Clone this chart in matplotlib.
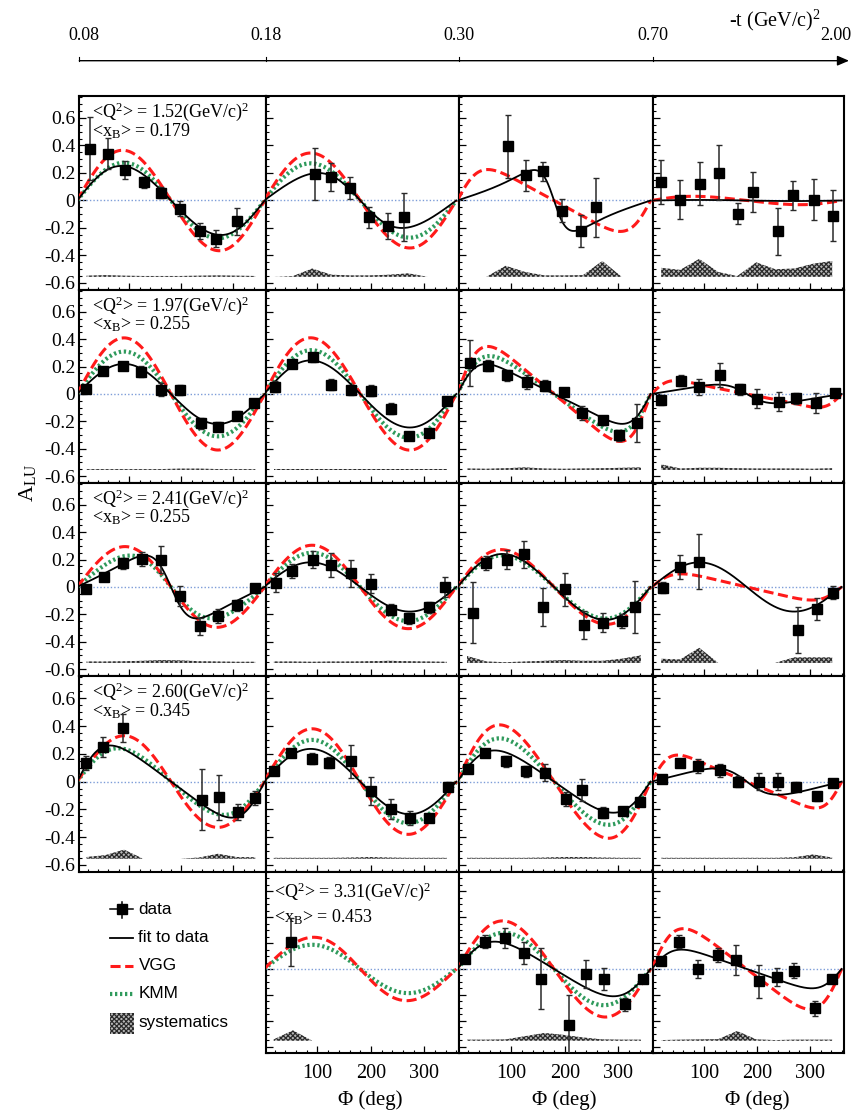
import numpy as np
import matplotlib
matplotlib.use('Agg')
import matplotlib.pyplot as plt
from matplotlib.patches import Rectangle

plt.rcParams['font.family'] = ['Liberation Serif', 'DejaVu Serif']
plt.rcParams['mathtext.fontset'] = 'custom'
plt.rcParams['mathtext.rm'] = 'Liberation Serif'
plt.rcParams['mathtext.it'] = 'Liberation Serif:italic'
plt.rcParams['mathtext.default'] = 'regular'
plt.rcParams['hatch.linewidth'] = 0.9
plt.rcParams['hatch.color'] = '#2a2a2a'

# ---------------- data ----------------
t_labels = ['0.08', '0.18', '0.30', '0.70', '2.00']
q2_labels = ['1.52', '1.97', '2.41', '2.60', '3.31']
xb_labels = ['0.179', '0.255', '0.255', '0.345', '0.453']
ytick_vals = [-0.6, -0.4, -0.2, 0.0, 0.2, 0.4, 0.6]
ytick_labels = ['-0.6', '-0.4', '-0.2', '0', '0.2', '0.4', '0.6']
xtick_vals = [100, 200, 300]
xtick_labels = ['100', '200', '300']
sys_phi = [18, 54, 90, 126, 162, 198, 234, 270, 306, 342]

# row 1
phi_r1c1 = [25, 60, 91, 128, 160, 198, 235, 267, 306]
asy_r1c1 = [0.378, 0.341, 0.222, 0.134, 0.056, -0.059, -0.220, -0.278, -0.151]
err_r1c1 = [0.23, 0.11, 0.065, 0.04, 0.04, 0.055, 0.057, 0.06, 0.10]
sys_r1c1 = [0.008, 0.012, 0.008, 0.006, 0.006, 0.006, 0.008, 0.01, 0.008, 0.006]
fit_r1c1, vgg_r1c1, kmm_r1c1 = (0.25, -0.1), (0.365, -0.05), (0.275, 0.0)

phi_r1c2 = [96, 126, 160, 197, 232, 262]
asy_r1c2 = [0.19, 0.171, 0.093, -0.122, -0.183, -0.122]
err_r1c2 = [0.19, 0.104, 0.08, 0.075, 0.094, 0.175]
sys_r1c2 = [0.0, 0.005, 0.06, 0.015, 0.01, 0.01, 0.015, 0.025, 0.0, 0.0]
fit_r1c2, vgg_r1c2, kmm_r1c2 = (0.196, 0.2), (0.345, -0.05), (0.27, -0.05)

phi_r1c3 = [95, 127, 160, 194, 231, 259]
asy_r1c3 = [0.395, 0.183, 0.212, -0.073, -0.222, -0.049]
err_r1c3 = [0.23, 0.113, 0.068, 0.082, 0.118, 0.213]
sys_r1c3 = [0.0, 0.0, 0.08, 0.035, 0.01, 0.01, 0.012, 0.115, 0.0, 0.0]
fit_r1c3, vgg_r1c3, kmm_r1c3 = (0.133, 0.8), (0.188, -0.55), None

phi_r1c4 = [18, 54, 91, 127, 163, 192, 240, 267, 307, 343]
asy_r1c4 = [0.134, 0.007, 0.122, 0.202, -0.095, 0.061, -0.224, 0.037, 0.007, -0.11]
err_r1c4 = [0.16, 0.144, 0.157, 0.2, 0.077, 0.144, 0.17, 0.107, 0.146, 0.183]
sys_r1c4 = [0.065, 0.05, 0.13, 0.035, 0.005, 0.105, 0.055, 0.06, 0.095, 0.115]
fit_r1c4, vgg_r1c4, kmm_r1c4 = (0.004, 0.0), (0.03, -0.2), None

# row 2
phi_r2c1 = [16, 50, 88, 122, 160, 198, 237, 270, 306, 340]
asy_r2c1 = [0.036, 0.17, 0.206, 0.163, 0.032, 0.029, -0.214, -0.238, -0.158, -0.066]
err_r2c1 = [0.03, 0.03, 0.03, 0.04, 0.05, 0.04, 0.04, 0.03, 0.03, 0.03]
sys_r2c1 = [0.006, 0.006, 0.006, 0.006, 0.006, 0.009, 0.009, 0.006, 0.006, 0.006]
fit_r2c1, vgg_r2c1, kmm_r2c1 = (0.22, 0.0), (0.41, 0.0), (0.31, 0.0)

phi_r2c2 = [20, 52, 91, 125, 162, 201, 237, 272, 308, 342]
asy_r2c2 = [0.053, 0.218, 0.267, 0.066, 0.029, 0.024, -0.109, -0.308, -0.284, -0.049]
err_r2c2 = [0.04, 0.03, 0.03, 0.04, 0.04, 0.04, 0.04, 0.03, 0.03, 0.03]
sys_r2c2 = [0.006] * 10
fit_r2c2, vgg_r2c2, kmm_r2c2 = (0.245, -0.05), (0.41, -0.05), (0.32, -0.03)

phi_r2c3 = [24, 57, 92, 129, 164, 198, 232, 272, 302, 334]
asy_r2c3 = [0.226, 0.206, 0.138, 0.085, 0.061, 0.017, -0.138, -0.194, -0.303, -0.211]
err_r2c3 = [0.17, 0.04, 0.04, 0.05, 0.04, 0.03, 0.05, 0.03, 0.04, 0.14]
sys_r2c3 = [0.01, 0.008, 0.012, 0.018, 0.01, 0.008, 0.01, 0.012, 0.015, 0.018]
fit_r2c3, vgg_r2c3, kmm_r2c3 = (0.175, -0.6), (0.29, -0.55), (0.24, -0.5)

phi_r2c4 = [18, 55, 90, 130, 167, 199, 241, 274, 311, 348]
asy_r2c4 = [-0.044, 0.097, 0.049, 0.138, 0.036, -0.036, -0.056, -0.032, -0.066, 0.007]
err_r2c4 = [0.04, 0.04, 0.06, 0.09, 0.04, 0.07, 0.07, 0.04, 0.07, 0.03]
sys_r2c4 = [0.04, 0.01, 0.015, 0.015, 0.012, 0.01, 0.01, 0.01, 0.008, 0.012]
fit_r2c4, vgg_r2c4, kmm_r2c4 = (0.056, 0.57), (0.07, -0.7), None

# row 3
phi_r3c1 = [17, 52, 88, 124, 161, 198, 236, 271, 306, 342]
asy_r3c1 = [-0.017, 0.075, 0.172, 0.206, 0.2, -0.066, -0.289, -0.211, -0.133, -0.005]
err_r3c1 = [0.03, 0.03, 0.04, 0.05, 0.1, 0.07, 0.06, 0.05, 0.04, 0.03]
sys_r3c1 = [0.01, 0.01, 0.012, 0.015, 0.02, 0.018, 0.012, 0.01, 0.008, 0.008]
fit_r3c1, vgg_r3c1, kmm_r3c1 = (0.175, 0.65), (0.295, 0.03), (0.225, 0.2)

phi_r3c2 = [23, 52, 91, 125, 162, 201, 237, 272, 308, 339]
asy_r3c2 = [0.032, 0.117, 0.2, 0.16, 0.1, 0.024, -0.167, -0.228, -0.15, 0.0]
err_r3c2 = [0.07, 0.05, 0.06, 0.09, 0.1, 0.07, 0.04, 0.04, 0.04, 0.07]
sys_r3c2 = [0.01, 0.01, 0.008, 0.01, 0.01, 0.012, 0.015, 0.012, 0.01, 0.008]
fit_r3c2, vgg_r3c2, kmm_r3c2 = (0.18, -0.05), (0.305, 0.0), (0.25, 0.0)

phi_r3c3 = [30, 53, 92, 124, 159, 200, 235, 272, 307, 330]
asy_r3c3 = [-0.187, 0.177, 0.2, 0.238, -0.146, -0.017, -0.279, -0.26, -0.248, -0.15]
err_r3c3 = [0.22, 0.05, 0.07, 0.1, 0.14, 0.12, 0.1, 0.07, 0.05, 0.19]
sys_r3c3 = [0.05, 0.01, 0.005, 0.01, 0.015, 0.02, 0.015, 0.015, 0.03, 0.055]
fit_r3c3, vgg_r3c3, kmm_r3c3 = (0.24, -0.1), (0.27, -0.15), (0.23, -0.1)

phi_r3c4 = [21, 53, 90, 278, 313, 344]
asy_r3c4 = [-0.005, 0.146, 0.184, -0.313, -0.158, -0.041]
err_r3c4 = [0.04, 0.09, 0.2, 0.17, 0.08, 0.05]
sys_r3c4 = [0.03, 0.025, 0.11, 0.0, 0.0, 0.0, 0.0, 0.04, 0.04, 0.04]
fit_r3c4, vgg_r3c4, kmm_r3c4 = (0.18, 0.0), (0.08, -0.55), None

# row 4
phi_r4c1 = [17, 50, 88, 239, 273, 308, 342]
asy_r4c1 = [0.136, 0.25, 0.383, -0.131, -0.114, -0.218, -0.121]
err_r4c1 = [0.05, 0.07, 0.1, 0.22, 0.16, 0.06, 0.05]
sys_r4c1 = [0.012, 0.025, 0.065, 0.0, 0.0, 0.0, 0.008, 0.035, 0.012, 0.01]
fit_r4c1, vgg_r4c1, kmm_r4c1 = (0.232, -0.45), (0.33, 0.0), (0.235, -0.2)

phi_r4c2 = [18, 51, 90, 122, 162, 201, 238, 274, 309, 344]
asy_r4c2 = [0.075, 0.206, 0.165, 0.136, 0.146, -0.066, -0.199, -0.265, -0.26, -0.036]
err_r4c2 = [0.03, 0.03, 0.04, 0.04, 0.12, 0.1, 0.07, 0.05, 0.03, 0.03]
sys_r4c2 = [0.006, 0.006, 0.006, 0.006, 0.008, 0.012, 0.008, 0.006, 0.006, 0.006]
fit_r4c2, vgg_r4c2, kmm_r4c2 = (0.235, -0.05), (0.38, 0.0), (0.3, 0.0)

phi_r4c3 = [20, 51, 90, 127, 164, 203, 232, 272, 309, 341]
asy_r4c3 = [0.092, 0.206, 0.146, 0.073, 0.063, -0.126, -0.061, -0.223, -0.211, -0.146]
err_r4c3 = [0.03, 0.03, 0.04, 0.04, 0.06, 0.05, 0.08, 0.04, 0.03, 0.03]
sys_r4c3 = [0.006, 0.006, 0.006, 0.006, 0.008, 0.012, 0.012, 0.008, 0.006, 0.006]
fit_r4c3, vgg_r4c3, kmm_r4c3 = (0.21, -0.35), (0.40, -0.2), (0.305, -0.2)

phi_r4c4 = [20, 53, 88, 130, 164, 204, 239, 274, 313, 344]
asy_r4c4 = [0.019, 0.136, 0.112, 0.08, 0.0, 0.0, 0.0, -0.036, -0.107, -0.012]
err_r4c4 = [0.02, 0.03, 0.05, 0.05, 0.04, 0.06, 0.06, 0.03, 0.03, 0.02]
sys_r4c4 = [0.006, 0.006, 0.006, 0.006, 0.006, 0.006, 0.006, 0.01, 0.03, 0.008]
fit_r4c4, vgg_r4c4, kmm_r4c4 = (0.082, 0.5), (0.145, -0.65), None

# row 5
phi_r5c2 = [50]
asy_r5c2 = [0.21]
err_r5c2 = [0.185]
sys_r5c2 = [0.01, 0.08, 0.0, 0.0, 0.0, 0.0, 0.0, 0.0, 0.0, 0.0]
fit_r5c2, vgg_r5c2, kmm_r5c2 = None, (0.245, 0.05), (0.187, 0.0)

phi_r5c3 = [15, 51, 89, 125, 155, 208, 239, 274, 312, 345]
asy_r5c3 = [0.076, 0.211, 0.237, 0.122, -0.076, -0.433, -0.036, -0.076, -0.272, -0.076]
err_r5c3 = [0.03, 0.05, 0.076, 0.087, 0.235, 0.23, 0.108, 0.083, 0.05, 0.03]
sys_r5c3 = [0.008, 0.008, 0.01, 0.035, 0.06, 0.045, 0.025, 0.01, 0.008, 0.008]
fit_r5c3, vgg_r5c3, kmm_r5c3 = (0.198, -0.35), (0.37, -0.1), (0.28, -0.05)

phi_r5c4 = [17, 51, 88, 125, 159, 204, 237, 270, 310, 342]
asy_r5c4 = [0.064, 0.211, 0.0, 0.109, 0.071, -0.094, -0.061, -0.013, -0.305, -0.076]
err_r5c4 = [0.03, 0.05, 0.07, 0.055, 0.115, 0.127, 0.07, 0.057, 0.06, 0.02]
sys_r5c4 = [0.005, 0.008, 0.01, 0.012, 0.075, 0.01, 0.005, 0.008, 0.008, 0.008]
fit_r5c4, vgg_r5c4, kmm_r5c4 = (0.125, -0.55), (0.27, -0.5), None

panels = [
    (0, 0, phi_r1c1, asy_r1c1, err_r1c1, sys_r1c1, fit_r1c1, vgg_r1c1, kmm_r1c1),
    (0, 1, phi_r1c2, asy_r1c2, err_r1c2, sys_r1c2, fit_r1c2, vgg_r1c2, kmm_r1c2),
    (0, 2, phi_r1c3, asy_r1c3, err_r1c3, sys_r1c3, fit_r1c3, vgg_r1c3, kmm_r1c3),
    (0, 3, phi_r1c4, asy_r1c4, err_r1c4, sys_r1c4, fit_r1c4, vgg_r1c4, kmm_r1c4),
    (1, 0, phi_r2c1, asy_r2c1, err_r2c1, sys_r2c1, fit_r2c1, vgg_r2c1, kmm_r2c1),
    (1, 1, phi_r2c2, asy_r2c2, err_r2c2, sys_r2c2, fit_r2c2, vgg_r2c2, kmm_r2c2),
    (1, 2, phi_r2c3, asy_r2c3, err_r2c3, sys_r2c3, fit_r2c3, vgg_r2c3, kmm_r2c3),
    (1, 3, phi_r2c4, asy_r2c4, err_r2c4, sys_r2c4, fit_r2c4, vgg_r2c4, kmm_r2c4),
    (2, 0, phi_r3c1, asy_r3c1, err_r3c1, sys_r3c1, fit_r3c1, vgg_r3c1, kmm_r3c1),
    (2, 1, phi_r3c2, asy_r3c2, err_r3c2, sys_r3c2, fit_r3c2, vgg_r3c2, kmm_r3c2),
    (2, 2, phi_r3c3, asy_r3c3, err_r3c3, sys_r3c3, fit_r3c3, vgg_r3c3, kmm_r3c3),
    (2, 3, phi_r3c4, asy_r3c4, err_r3c4, sys_r3c4, fit_r3c4, vgg_r3c4, kmm_r3c4),
    (3, 0, phi_r4c1, asy_r4c1, err_r4c1, sys_r4c1, fit_r4c1, vgg_r4c1, kmm_r4c1),
    (3, 1, phi_r4c2, asy_r4c2, err_r4c2, sys_r4c2, fit_r4c2, vgg_r4c2, kmm_r4c2),
    (3, 2, phi_r4c3, asy_r4c3, err_r4c3, sys_r4c3, fit_r4c3, vgg_r4c3, kmm_r4c3),
    (3, 3, phi_r4c4, asy_r4c4, err_r4c4, sys_r4c4, fit_r4c4, vgg_r4c4, kmm_r4c4),
    (4, 1, phi_r5c2, asy_r5c2, err_r5c2, sys_r5c2, fit_r5c2, vgg_r5c2, kmm_r5c2),
    (4, 2, phi_r5c3, asy_r5c3, err_r5c3, sys_r5c3, fit_r5c3, vgg_r5c3, kmm_r5c3),
    (4, 3, phi_r5c4, asy_r5c4, err_r5c4, sys_r5c4, fit_r5c4, vgg_r5c4, kmm_r5c4),
]

# ---------------- styling ----------------
W, H = 851, 1114
RED = '#ff1a1a'
GREEN = '#2f9a5c'
ZBLUE = '#7d9dd8'
SYSC = '#2a2a2a'
SYSF = '#b8b8b8'
HATCH = 'xxxxxxx'
SYS_BASE = -0.555

fig = plt.figure(figsize=(W / 100, H / 100), dpi=100)
gs = fig.add_gridspec(5, 4, left=79.3 / W, right=844.3 / W, top=1 - 96 / H,
                      bottom=1 - 1053 / H, wspace=0, hspace=0,
                      width_ratios=[186.4, 193.3, 194.3, 191],
                      height_ratios=[194, 193, 193, 196, 181])

phi_grid = np.linspace(0, 360, 721)


def model(p):
    a, b = p
    r = np.radians(phi_grid)
    return a * np.sin(r) / (1 + b * np.cos(r))


axes = {}
for (r, c, phi, asy, err, sysv, fitp, vggp, kmmp) in panels:
    ax = fig.add_subplot(gs[r, c])
    axes[(r, c)] = ax
    ax.set_xlim((4, 362) if c == 0 else (3, 365))
    ax.set_ylim((-0.639, 0.742) if r == 4 else (-0.651, 0.76))

    sv = np.array(sysv)
    ax.fill_between(sys_phi, SYS_BASE, SYS_BASE + sv, hatch=HATCH,
                    facecolor=SYSF, edgecolor=SYSC, linewidth=0, zorder=1)
    ax.axhline(0, color=ZBLUE, lw=1.0, ls=(0, (1, 1.5)), zorder=2)
    if kmmp is not None:
        ax.plot(phi_grid, model(kmmp), color=GREEN, lw=3.0,
                ls=(0, (0.55, 0.65)), zorder=3)
    if vggp is not None:
        ax.plot(phi_grid, model(vggp), color=RED, lw=2.2,
                ls=(0, (3.3, 1.5)), zorder=4)
    if fitp is not None:
        ax.plot(phi_grid, model(fitp), color='black', lw=1.3, zorder=5)
    ax.errorbar(phi, asy, yerr=err, fmt='s', ms=6.8, mfc='black', mec='black',
                ecolor='#2a2a2a', elinewidth=1.1, capsize=2.5, capthick=1.0,
                zorder=6)

    ax.set_xticks(xtick_vals)
    ax.set_xticks(np.arange(20, 361, 20), minor=True)
    ax.set_yticks(ytick_vals)
    ax.set_yticks(np.arange(-0.65, 0.76, 0.05), minor=True)
    ax.tick_params(which='both', direction='in', top=False, right=False)
    ax.tick_params(which='major', length=5, width=0.9)
    ax.tick_params(which='minor', length=2.5, width=0.8)
    if c == 0:
        ax.set_yticklabels(ytick_labels, fontsize=14)
        ax.tick_params(axis='y', pad=3)
    else:
        ax.tick_params(axis='y', labelleft=False)
    if r == 4:
        ax.set_xticklabels(xtick_labels, fontsize=14.5)
        ax.tick_params(axis='x', pad=8)
    else:
        ax.tick_params(axis='x', labelbottom=False)
    for s in ax.spines.values():
        s.set_linewidth(1.5)

    if (c == 0) or (r == 4 and c == 1):
        if r == 4:
            xf, y1, y2 = 0.043, 0.891, 0.753
        else:
            xf, y1, y2 = 0.0665, 0.919, 0.821
        ax.text(xf, y1, '<Q$^{2}$> = ' + q2_labels[r] + '(GeV/c)$^{2}$',
                transform=ax.transAxes, fontsize=13, ha='left', va='center')
        ax.text(xf, y2, '<x$_{B}$> = ' + xb_labels[r],
                transform=ax.transAxes, fontsize=13, ha='left', va='center')

# ---------------- overlay (pixel coordinates) ----------------
ov = fig.add_axes([0, 0, 1, 1])
ov.set_xlim(0, W)
ov.set_ylim(H, 0)
ov.axis('off')
ov.patch.set_visible(False)

bounds = [axes[(0, c)].get_position().x0 * W for c in range(4)]
bounds.append(axes[(0, 3)].get_position().x1 * W)

ov.annotate('', xy=(849, 60.7), xytext=(bounds[0], 60.7),
            arrowprops=dict(arrowstyle='-|>,head_length=0.7,head_width=0.3',
                            color='black', lw=1.0, shrinkA=0, shrinkB=0))
for i, xb in enumerate(bounds):
    if i < 4:
        ov.plot([xb, xb], [57.3, 60.7], color='black', lw=0.8)
    if i == 0:
        ov.text(xb + 5, 35, t_labels[i], fontsize=13, ha='center', va='center')
    elif i == 4:
        ov.text(851, 35, t_labels[i], fontsize=13, ha='right', va='center')
    else:
        ov.text(xb, 35, t_labels[i], fontsize=13, ha='center', va='center')
ov.text(821, 20, '-t (GeV/c)$^{2}$', fontsize=14.5, ha='right', va='center')

ov.text(27, 483, 'A$_{LU}$', rotation=90, fontsize=16, ha='center', va='center')

for c in range(1, 4):
    p = axes[(4, c)].get_position()
    ov.text((p.x0 + p.x1) / 2 * W + 8, 1100, 'Φ (deg)', fontsize=15,
            ha='center', va='center')

# legend
leg_font = dict(family=['Liberation Sans', 'DejaVu Sans'], fontsize=12.3,
                ha='left', va='center')
ov.plot([110, 133], [909, 909], color='black', lw=1.1)
ov.plot([121.7, 121.7], [901.5, 918], color='black', lw=1.1)
ov.plot([121.7], [909], 's', color='black', ms=6.8)
ov.text(138.5, 909, 'data', **leg_font)
ov.plot([110, 133], [938, 938], color='black', lw=1.3)
ov.text(138.5, 938, 'fit to data', **leg_font)
ov.plot([110, 133], [966, 966], color=RED, lw=2.2, ls=(0, (3.3, 1.5)))
ov.text(138.5, 966, 'VGG', **leg_font)
ov.plot([110, 133], [994, 994], color=GREEN, lw=3.0, ls=(0, (0.55, 0.65)))
ov.text(138.5, 994, 'KMM', **leg_font)
ov.add_patch(Rectangle((110, 1013), 24, 21, hatch=HATCH, facecolor=SYSF,
                       edgecolor=SYSC, linewidth=0))
ov.text(138.5, 1023, 'systematics', **leg_font)

fig.savefig('out.png', dpi=100)
